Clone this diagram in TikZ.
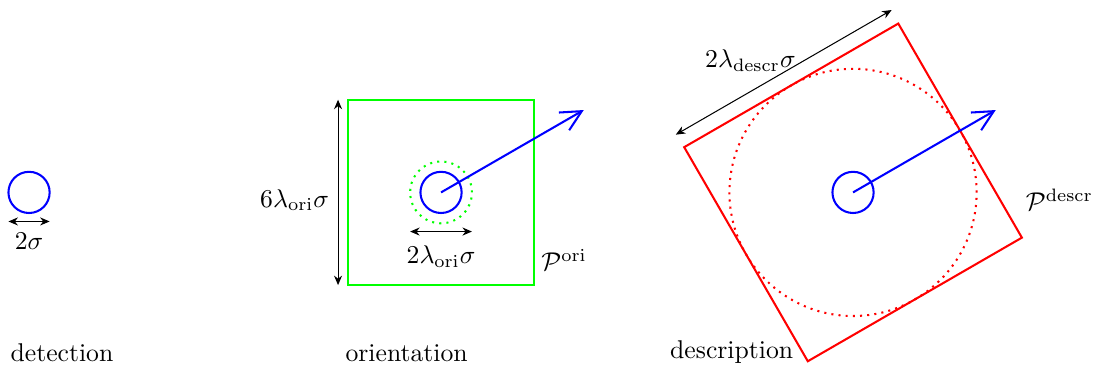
\documentclass[tikz,border=0pt]{standalone}
\usepackage{amsmath}
\usetikzlibrary{arrows.meta, calc}
\tikzset{
  kp/.style={draw=blue, thick},
  orient/.style={blue, thick, -{Straight Barb[length=2.8mm, width=2.8mm]}},
  dim/.style={{Stealth[length=1.3mm, width=1.1mm]}-{Stealth[length=1.3mm, width=1.1mm]}, black},
  patchOri/.style={rectangle, draw=green, thick, minimum size=2.538cm, inner sep=0pt},
  patchDescr/.style={rectangle, draw=red, thick, minimum size=3.384cm, inner sep=0pt},
  region/.style={thick, dotted},
  stage/.style={anchor=base west, inner sep=0pt},
  tag/.style={anchor=base west, inner sep=0pt},
}

\begin{document}
\begin{tikzpicture}[x=0.282cm, y=0.282cm]
\useasboundingbox (-1.41,-8.57) rectangle (51.94,9.34);

% keypoint centres
\coordinate (det) at (0,0);
\coordinate (ori) at (20,0);
\coordinate (descr) at (40,0);

% detection
\draw[kp] (det) circle (1);
\coordinate (detL) at (-1,-1.41);
\coordinate (detR) at (1,-1.41);
\draw[dim] (detL) -- node[below, yshift=-1pt] {$2\sigma$} (detR);
\node[stage] (detName) at (-0.92,-8.23) {detection};

% orientation
\node[patchOri] (oriPatch) at (ori) {};
\draw[green, region] (ori) circle (1.5);
\draw[kp] (ori) circle (1);
\coordinate (oriTip) at ($(ori)+(30:8)$);
\draw[orient] (ori) -- (oriTip);
\coordinate (oriL) at (18.5,-1.9);
\coordinate (oriR) at (21.5,-1.9);
\draw[dim] (oriL) -- node[below, yshift=-2pt] {$2\lambda_{\mathrm{ori}}\sigma$} (oriR);
\coordinate (oriTop) at (15,4.5);
\coordinate (oriBot) at (15,-4.5);
\draw[dim] (oriTop) -- node[left, yshift=-3pt] {$6\lambda_{\mathrm{ori}}\sigma$} (oriBot);
\node[tag] (oriTag) at ($(oriPatch.south east)+(0.3,0.76)$) {$\mathcal{P}^{\mathrm{ori}}$};
\node[stage] (oriName) at (15.34,-8.23) {orientation};

% description
\node[patchDescr, rotate=30] (descrPatch) at (descr) {};
\draw[red, region] (descr) circle (6);
\draw[kp] (descr) circle (1);
\coordinate (descrTip) at ($(descr)+(30:8)$);
\draw[orient] (descr) -- (descrTip);
\coordinate (descrA) at ($(descrPatch.north west)+(120:0.68)$);
\coordinate (descrB) at ($(descrPatch.north east)+(120:0.68)$);
\draw[dim] (descrA) -- (descrB);
\node[tag] (descrSize) at (32.8,6.07) {$2\lambda_{\mathrm{descr}}\sigma$};
\node[tag] (descrTag) at ($(descrPatch.south east)+(0.1,1.33)$) {$\mathcal{P}^{\mathrm{descr}}$};
\node[stage] (descrName) at (31.1,-8.04) {description};
\end{tikzpicture}
\end{document}
